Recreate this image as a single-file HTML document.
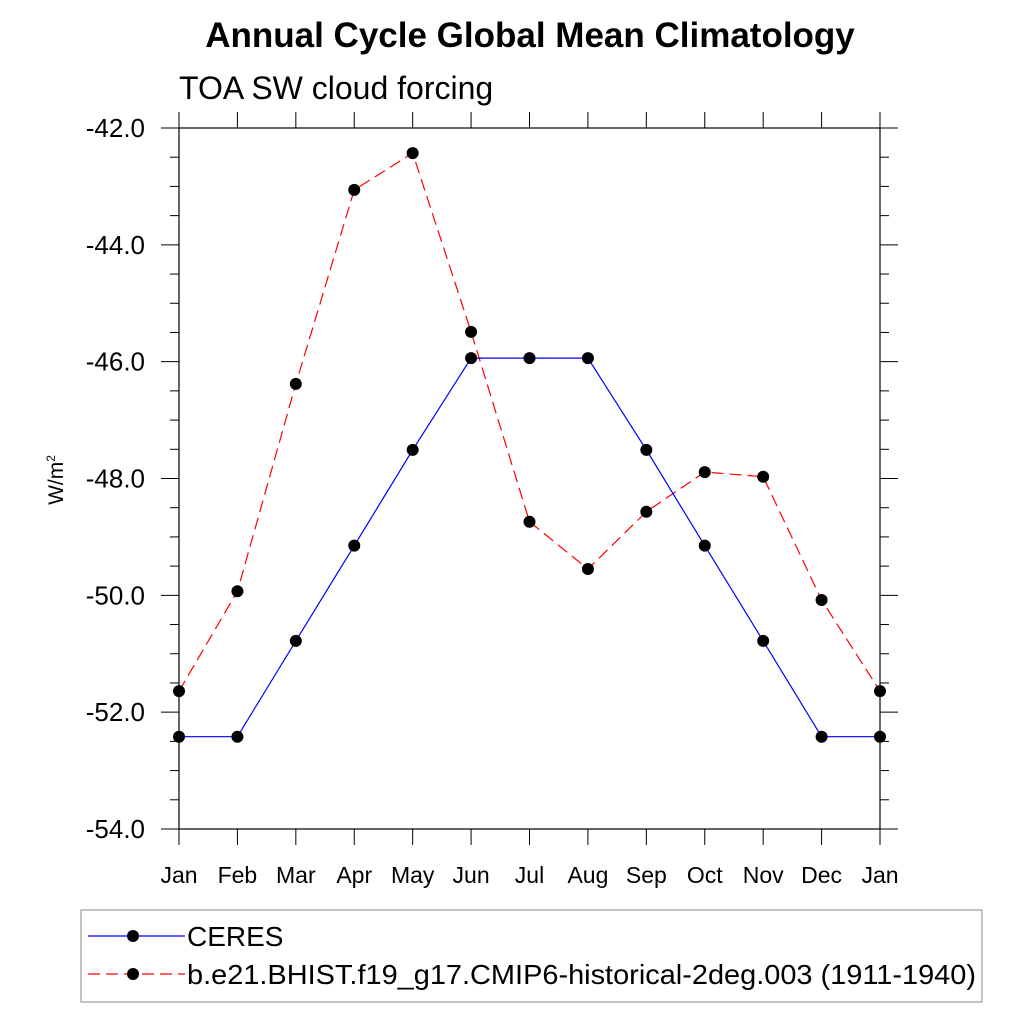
<!DOCTYPE html>
<html><head><meta charset="utf-8"><style>
body{margin:0;background:#fff}
svg{display:block;font-family:"Liberation Sans",sans-serif}
</style></head><body>
<svg id="chart" width="1024" height="1024" viewBox="0 0 1024 1024">
<text x="530" y="47" text-anchor="middle" font-size="35" font-weight="bold">Annual Cycle Global Mean Climatology</text>
<text x="179" y="99" font-size="32">TOA SW cloud forcing</text>
<text transform="translate(63,480) rotate(-90)" text-anchor="middle" font-size="21">W/m<tspan font-size="12" dy="-8">2</tspan></text>
<g id="axes"></g>
<g id="series"></g>
<g>
<rect x="81" y="910" width="901" height="92" fill="none" stroke="#888" stroke-width="1"/>
<line x1="88" y1="936" x2="185" y2="936" stroke="#0000ff" stroke-width="1.2"/>
<circle cx="133" cy="936" r="6" fill="#000"/>
<text x="187" y="946" font-size="28">CERES</text>
<line x1="88" y1="974" x2="185" y2="974" stroke="#ff0000" stroke-width="1.2" stroke-dasharray="12,6"/>
<circle cx="133" cy="974" r="6" fill="#000"/>
<text x="187" y="984" font-size="28" textLength="789" lengthAdjust="spacingAndGlyphs">b.e21.BHIST.f19_g17.CMIP6-historical-2deg.003 (1911-1940)</text>
</g>
</svg>
<script>
const months=["Jan","Feb","Mar","Apr","May","Jun","Jul","Aug","Sep","Oct","Nov","Dec","Jan"];
const ceres=[-52.42,-52.42,-50.78,-49.15,-47.51,-45.94,-45.94,-45.94,-47.51,-49.15,-50.78,-52.42,-52.42];
const model=[-51.64,-49.93,-46.38,-43.06,-42.43,-45.49,-48.74,-49.55,-48.57,-47.89,-47.97,-50.08,-51.64];
const yTicks=[-42,-44,-46,-48,-50,-52,-54];
const X0=179,X1=880,Y0=128,Y1=829,YMAX=-42,YMIN=-54;
const xs=i=>X0+(X1-X0)*i/12;
const ys=v=>Y0+(YMAX-v)/(YMAX-YMIN)*(Y1-Y0);
const NS="http://www.w3.org/2000/svg";
function mk(tag,attrs,parent){const e=document.createElementNS(NS,tag);for(const k in attrs)e.setAttribute(k,attrs[k]);parent.appendChild(e);return e;}
const ax=document.getElementById('axes');
const frame=mk('rect',{x:X0,y:Y0,width:X1-X0,height:Y1-Y0,fill:'none',stroke:'#000','stroke-width':1.2},ax);


for(let v=YMAX;v>=YMIN-0.001;v-=0.5){
 const y=ys(v);const major=Math.abs(v/2-Math.round(v/2))<1e-6;const L=major?18:9;
 mk('line',{x1:X0-L,y1:y,x2:X0,y2:y,stroke:'#000','stroke-width':1},ax);
 mk('line',{x1:X1,y1:y,x2:X1+L,y2:y,stroke:'#000','stroke-width':1},ax);
}
yTicks.forEach(v=>{const t=mk('text',{x:X0-34,y:ys(v)+9,'text-anchor':'end','font-size':26},ax);t.textContent=v.toFixed(1);
 
 });
months.forEach((m,i)=>{const x=xs(i);
 mk('line',{x1:x,y1:Y0-16,x2:x,y2:Y0,stroke:'#000','stroke-width':1},ax);
 mk('line',{x1:x,y1:Y1,x2:x,y2:Y1+16,stroke:'#000','stroke-width':1},ax);
 const t=mk('text',{x:x,y:883,'text-anchor':'middle','font-size':23},ax);t.textContent=m;
 
 });
const sg=document.getElementById('series');
function draw(vals,color,dash,name){
 const p=mk('polyline',{points:vals.map((v,i)=>xs(i)+','+ys(v)).join(' '),fill:'none',stroke:color,'stroke-width':1.2,'stroke-dasharray':dash},sg);
 
 
 vals.forEach((v,i)=>{const c=mk('circle',{cx:xs(i),cy:ys(v),r:6,fill:'#000'},sg);
  
  });
}
draw(model,'#ff0000','12,6','model');
draw(ceres,'#0000ff','none','ceres');
</script>
</body></html>
